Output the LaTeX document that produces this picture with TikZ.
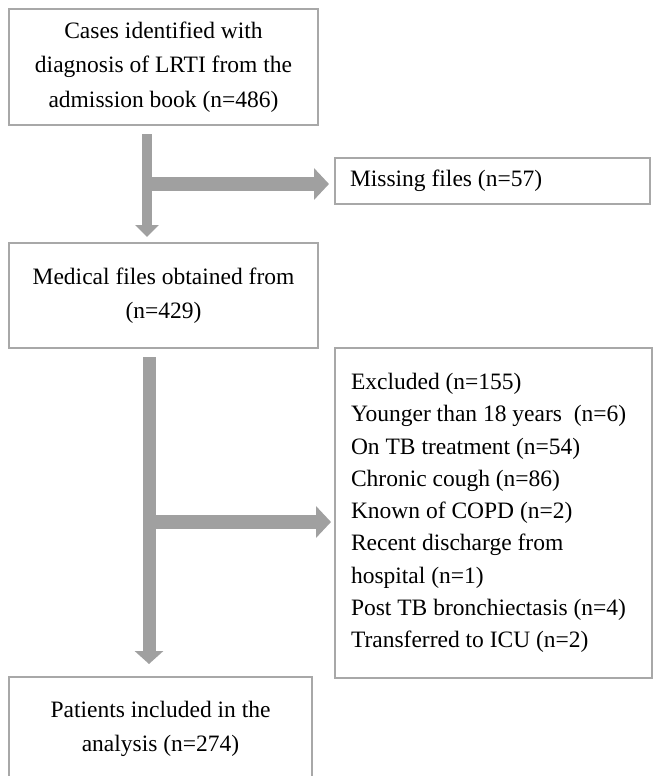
\documentclass[tikz,border=0pt]{standalone}
\usepackage{fontspec}
\setmainfont{Liberation Serif}
\usetikzlibrary{arrows.meta}
\definecolor{boxgray}{RGB}{168,168,168}
\definecolor{flowgray}{RGB}{160,160,160}
\tikzset{
  box/.style={draw=boxgray, line width=2pt, inner sep=0pt,
    font=\fontsize{23.5}{34.5}\selectfont},
  flowthin/.style={draw=flowgray, line width=10pt,
    -{Triangle[width=23pt,length=12pt]}},
  flowwide/.style={draw=flowgray, line width=14pt,
    -{Triangle[width=31pt,length=15pt]}},
  flowmid/.style={draw=flowgray, line width=13pt,
    -{Triangle[width=28pt,length=13pt]}}
}
\begin{document}
\begin{tikzpicture}[x=1pt,y=1pt]
\useasboundingbox[fill=white] (0,0) rectangle (654,-776);
\node[box, minimum width=309pt, minimum height=116pt, align=center] (cases) at (163.5,-67)
  {Cases identified with\\diagnosis of LRTI from the\\admission book (n=486)};
\node[box, minimum width=315pt, minimum height=46pt, text width=285pt, align=flush left] (missing) at (492.5,-181)
  {Missing files (n=57)};
\node[box, minimum width=309pt, minimum height=105pt, align=center] (files) at (163.5,-295.5)
  {Medical files obtained from\\(n=429)};
\node[box, minimum width=317pt, minimum height=330pt, text width=285pt, align=flush left,
  font=\fontsize{23.5}{32.3}\selectfont] (excluded) at (493.5,-513)
  {Excluded (n=155)\\Younger than 18 years\ \ (n=6)\\On TB treatment (n=54)\\Chronic cough (n=86)\\Known of COPD (n=2)\\Recent discharge from\\hospital (n=1)\\Post TB bronchiectasis (n=4)\\Transferred to ICU (n=2)};
\node[box, minimum width=303pt, minimum height=104pt, align=center] (included) at (160.5,-729)
  {Patients included in the\\analysis (n=274)};
\coordinate (v1) at (147,-184);
\coordinate (v2) at (149,-522);
\draw[flowthin, shorten <=8pt, shorten >=5pt] (v1 |- cases.south) -- (v1 |- files.north);
\draw[flowwide, shorten >=5pt] (v1) -- (v1 -| missing.west);
\draw[flowmid, shorten <=8pt, shorten >=12pt] (v2 |- files.south) -- (v2 |- included.north);
\draw[flowwide, shorten >=3pt] (v2) -- (v2 -| excluded.west);
\end{tikzpicture}
\end{document}
